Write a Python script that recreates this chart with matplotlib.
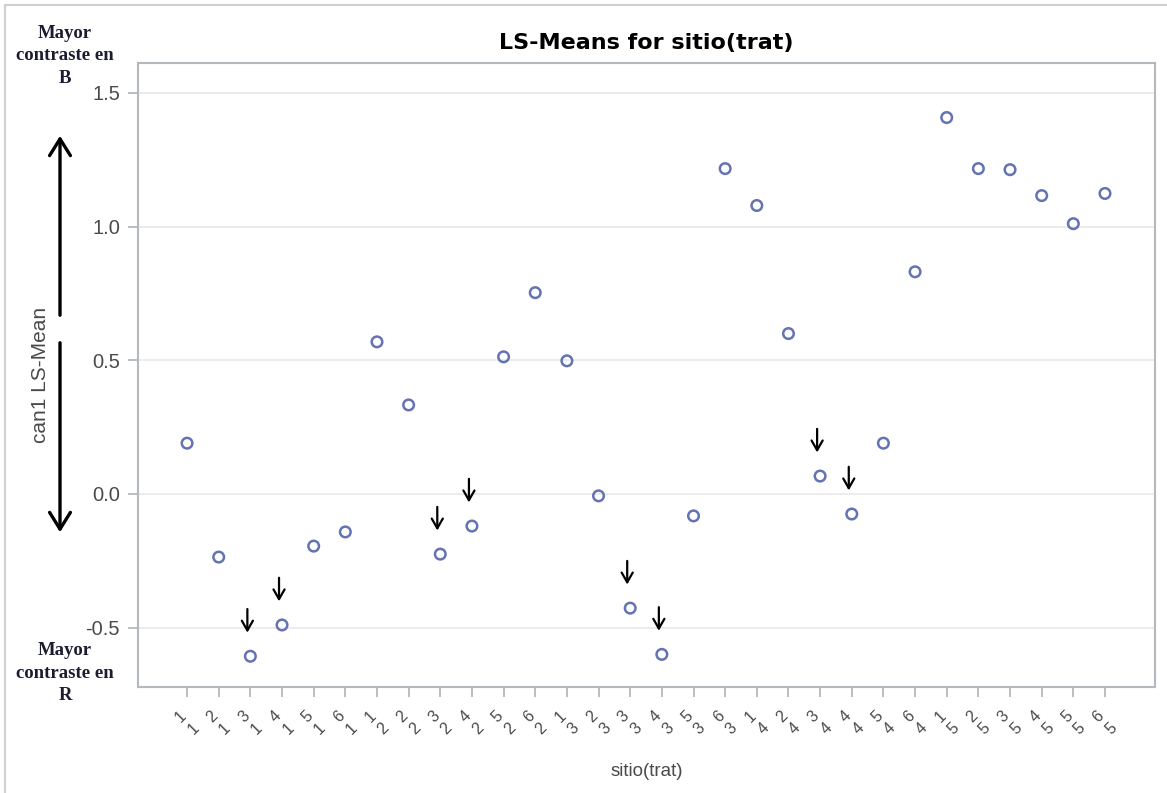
import matplotlib.pyplot as plt
from matplotlib.patches import FancyArrowPatch
from matplotlib.lines import Line2D
from matplotlib.transforms import offset_copy

sitio = [1, 2, 3, 4, 5, 6] * 5
trat = [1] * 6 + [2] * 6 + [3] * 6 + [4] * 6 + [5] * 6
lsmean = [0.19, -0.236, -0.607, -0.49, -0.195, -0.142,
          0.569, 0.333, -0.225, -0.12, 0.513, 0.753,
          0.498, -0.007, -0.427, -0.60, -0.082, 1.217,
          1.079, 0.60, 0.067, -0.075, 0.19, 0.831,
          1.408, 1.217, 1.213, 1.116, 1.011, 1.124]
marked = [(3, 1), (4, 1), (3, 2), (4, 2), (3, 3), (4, 3), (3, 4), (4, 4)]
yticks = [-0.5, 0.0, 0.5, 1.0, 1.5]

W, H = 1167, 793
fig = plt.figure(figsize=(W / 100, H / 100), dpi=100)
ax = fig.add_axes([138 / W, 1 - 687 / H, (1155 - 138) / W, (687 - 63) / H])

x = list(range(len(lsmean)))
ax.scatter(x, lsmean, s=58, facecolors="none", edgecolors="#6573b3",
           linewidths=1.8, zorder=3)

# small arrows over the highlighted levels
shifted = offset_copy(ax.transData, fig=fig, x=-3, y=0, units="dots")
for i, (s, t) in enumerate(zip(sitio, trat)):
    if (s, t) in marked:
        ax.annotate("", xy=(i, lsmean[i]), xycoords=shifted, xytext=(0, 34),
                    textcoords="offset points",
                    arrowprops=dict(arrowstyle="->,head_length=0.7,head_width=0.4",
                                    color="black", lw=1.6, shrinkA=0, shrinkB=17))

ax.set_xlim(-1.55, len(lsmean) - 1 + 1.58)
ax.set_ylim(-0.722, 1.612)
ax.set_yticks(yticks)
ax.set_yticklabels([f"{v:.1f}" for v in yticks])
ax.set_xticks(x)
ax.set_xticklabels([f"{s}\n{t}" for s, t in zip(sitio, trat)], rotation=45,
                   ha="center", va="top", linespacing=1.25)
ax.yaxis.grid(True, color="#e9e9e9", lw=1.2)
ax.set_axisbelow(True)
for sp in ax.spines.values():
    sp.set_color("#b4b9bd")
    sp.set_linewidth(1.5)
ax.tick_params(axis="both", colors="#b4b9bd", length=7, width=1.3,
               labelcolor="#4a4a4a", labelsize=14.5, pad=6)
ax.tick_params(axis="x", labelsize=11.5, pad=8)
for lab in ax.get_xticklabels() + ax.get_yticklabels():
    lab.set_family("Liberation Sans")

ax.set_title("LS-Means for sitio(trat)", fontsize=16, fontweight="bold",
             family="DejaVu Sans", pad=10)
ax.set_xlabel("sitio(trat)", fontsize=13.5, color="#4a4a4a",
              family="Liberation Sans", labelpad=18)
fig.text(40 / W, 1 - 375 / H, "can1 LS-Mean", rotation=90, ha="center",
         va="center", fontsize=15, color="#4a4a4a", family="Liberation Sans")

# side notes
note = dict(ha="center", va="center", fontsize=13.5, fontweight="bold",
            family="Liberation Serif", color="#1c1c30", linespacing=1.45)
fig.text(65 / W, 1 - 56 / H, "Mayor\ncontraste en\nB", **note)
fig.text(65 / W, 1 - 673 / H, "Mayor\ncontraste en\nR", **note)

for y0, y1 in [(318, 133), (340, 535)]:
    fig.patches.append(FancyArrowPatch(
        (60 / W, 1 - y0 / H), (60 / W, 1 - y1 / H), transform=fig.transFigure,
        arrowstyle="->,head_length=8,head_width=5", color="black", lw=2.4,
        mutation_scale=1.5))

# outer frame of the screenshot
fig.lines.append(Line2D([5 / W, 5 / W], [0, 1 - 5 / H], transform=fig.transFigure,
                        color="#d0d0d0", lw=1.5))
fig.lines.append(Line2D([5 / W, 1], [1 - 5 / H, 1 - 5 / H], transform=fig.transFigure,
                        color="#d0d0d0", lw=1.5))

plt.savefig("out.png", dpi=100)
